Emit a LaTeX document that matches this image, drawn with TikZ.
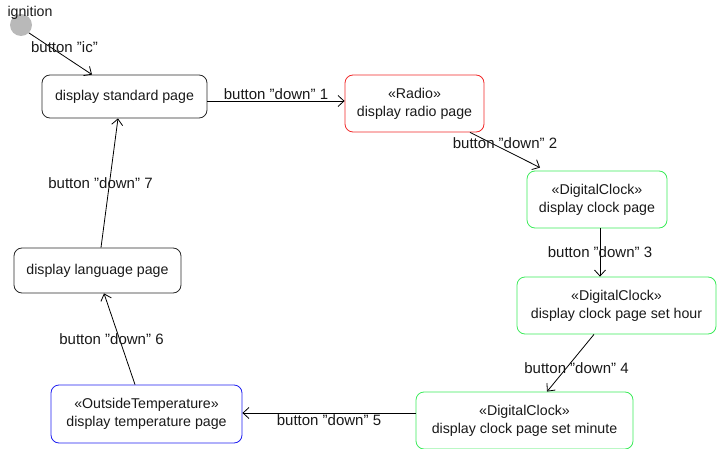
\documentclass[tikz,border=0pt]{standalone}
\usepackage{fontspec}
\setmainfont{Liberation Sans}
\usetikzlibrary{arrows.meta}
\definecolor{redb}{RGB}{240,40,40}
\definecolor{greenb}{RGB}{60,235,90}
\definecolor{blueb}{RGB}{30,30,240}
\definecolor{grayb}{RGB}{40,40,40}
\definecolor{ignfill}{RGB}{185,185,185}
\newcommand{\qt}{\symbol{34}}
\begin{document}
\begin{tikzpicture}[x=1pt,y=-1pt,
  every node/.style={font=\fontsize{14.2}{18}\selectfont, text=black!90},
  state/.style={draw=grayb, rounded corners=8pt, align=center, inner sep=0pt, line width=0.8pt},
  trans/.style={draw=black, line width=0.8pt, -{Straight Barb[length=6pt,width=11pt]}},
  lbl/.style={inner sep=1pt, font=\fontsize{15}{18}\selectfont}]
\useasboundingbox (0,0) rectangle (717,449);
\node[circle, fill=ignfill, minimum size=22pt, inner sep=0pt] (ign) at (21,25) {};
\node[inner sep=0pt] (ignlbl) at (30,13) {ignition};
\node[state, minimum width=165pt, minimum height=43pt] (std) at (124.5,96.5) {display standard page};
\node[state, draw=redb, minimum width=139pt, minimum height=57pt] (radio) at (414.5,103.5) {«Radio»\\display radio page};
\node[state, draw=greenb, minimum width=140pt, minimum height=57pt] (clock) at (597,199.5) {«DigitalClock»\\display clock page};
\node[state, draw=greenb, minimum width=199pt, minimum height=57pt] (hour) at (616.5,305.5) {«DigitalClock»\\display clock page set hour};
\node[state, draw=greenb, minimum width=217pt, minimum height=57pt] (minute) at (524.5,420.5) {«DigitalClock»\\display clock page set minute};
\node[state, draw=blueb, minimum width=191pt, minimum height=58pt] (temp) at (146.5,414) {«OutsideTemperature»\\display temperature page};
\node[state, minimum width=167pt, minimum height=45pt] (lang) at (97.5,270.5) {display language page};

\draw[trans] (ign.south east) -- ([xshift=-32.5pt]std.north)
  node[lbl, midway, xshift=4pt, yshift=7pt] {button \qt ic\qt};
\draw[trans] ([yshift=-4.5pt]std.east) -- ([yshift=2.5pt]radio.west)
  node[lbl, midway, above] {button \qt down\qt\ 1};
\draw[trans] ([xshift=55.5pt]radio.south) -- ([xshift=-57pt,yshift=3pt]clock.north)
  node[lbl, midway, yshift=7pt] {button \qt down\qt\ 2};
\draw[trans] ([xshift=3pt]clock.south) -- ([xshift=-16.5pt]hour.north)
  node[lbl, midway] {button \qt down\qt\ 3};
\draw[trans] ([xshift=-22.5pt]hour.south) -- ([xshift=22.5pt]minute.north)
  node[lbl, midway, xshift=6pt, yshift=-5pt] {button \qt down\qt\ 4};
\draw[trans] ([yshift=7.5pt]minute.west) -- ([yshift=1pt]temp.east)
  node[lbl, midway, below] {button \qt down\qt\ 5};
\draw[trans] ([xshift=-11.5pt]temp.north) -- ([xshift=6.5pt]lang.south)
  node[lbl, midway, xshift=-8pt] {button \qt down\qt\ 6};
\draw[trans] ([xshift=3.5pt]lang.north) -- ([xshift=-6.5pt]std.south)
  node[lbl, midway, xshift=-9pt] {button \qt down\qt\ 7};
\end{tikzpicture}
\end{document}
